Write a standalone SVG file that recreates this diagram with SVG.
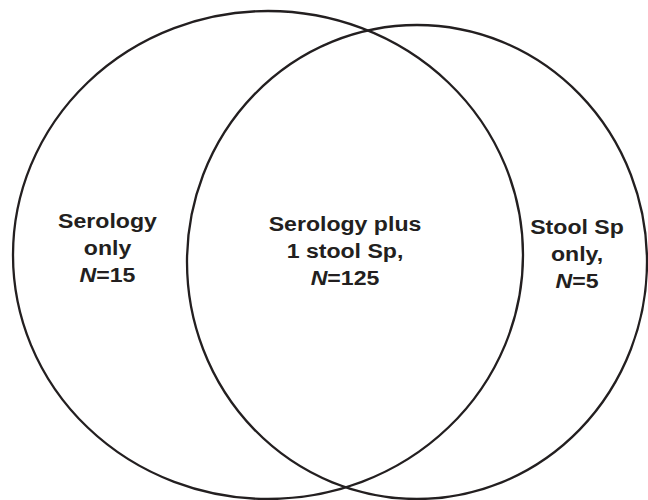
<svg xmlns="http://www.w3.org/2000/svg" width="648" height="500" viewBox="0 0 648 500">
<style>
.set{fill:none;stroke:#231f20;stroke-width:2.3}
.lbl{font-family:"Liberation Sans",Arial,sans-serif;font-weight:bold;font-size:21px;fill:#231f20;text-anchor:middle}
.it{font-style:italic}
</style>
<rect width="648" height="500" fill="#ffffff"/>
<g id="set-serology">
<ellipse class="set" cx="268" cy="255" rx="255" ry="244"/>
</g>
<g id="set-stool">
<ellipse class="set" cx="417" cy="262" rx="230" ry="237"/>
</g>
<g id="label-serology-only" transform="translate(107.5,0) scale(1.1,1)">
<text class="lbl" x="0" y="228">Serology</text>
<text class="lbl" x="0" y="255">only</text>
<text class="lbl" x="0" y="282"><tspan class="it">N</tspan>=15</text>
</g>
<g id="label-both" transform="translate(345,0) scale(1.1,1)">
<text class="lbl" x="0" y="231.5">Serology plus</text>
<text class="lbl" x="0" y="258">1 stool Sp,</text>
<text class="lbl" x="0" y="285"><tspan class="it">N</tspan>=125</text>
</g>
<g id="label-stool-only" transform="translate(577,0) scale(1.1,1)">
<text class="lbl" x="0" y="234">Stool Sp</text>
<text class="lbl" x="0" y="261">only,</text>
<text class="lbl" x="0" y="288"><tspan class="it">N</tspan>=5</text>
</g>
<g id="connectors"></g>
</svg>
